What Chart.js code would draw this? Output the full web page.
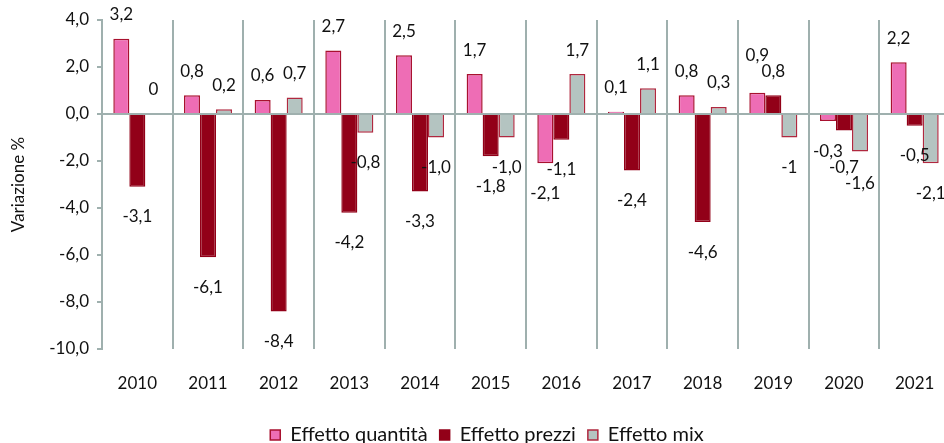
<!DOCTYPE html>
<html>
<head>
<meta charset="utf-8">
<script src="https://cdn.jsdelivr.net/npm/chart.js@4.4.1/dist/chart.umd.min.js"></script>
<style>
  html, body { margin: 0; padding: 0; background: #ffffff; overflow: hidden; width: 944px; height: 443px; }
  #wrap { width: 975px; height: 455px; }
</style>
</head>
<body>
<div id="wrap"><canvas id="c" width="975" height="455"></canvas></div>
<script>
const categories = ['2010','2011','2012','2013','2014','2015','2016','2017','2018','2019','2020','2021'];
const effettoQuantita = [3.2, 0.8, 0.6, 2.7, 2.5, 1.7, -2.1, 0.1, 0.8, 0.9, -0.3, 2.2];
const effettoPrezzi   = [-3.1, -6.1, -8.4, -4.2, -3.3, -1.8, -1.1, -2.4, -4.6, 0.8, -0.7, -0.5];
const effettoMix      = [0, 0.2, 0.7, -0.8, -1.0, -1.0, 1.7, 1.1, 0.3, -1, -1.6, -2.1];
const labelsQuantita  = ['3,2','0,8','0,6','2,7','2,5','1,7','-2,1','0,1','0,8','0,9','-0,3','2,2'];
const labelsPrezzi    = ['-3,1','-6,1','-8,4','-4,2','-3,3','-1,8','-1,1','-2,4','-4,6','0,8','-0,7','-0,5'];
const labelsMix       = ['0','0,2','0,7','-0,8','-1,0','-1,0','1,7','1,1','0,3','-1','-1,6','-2,1'];
const seriesNames     = ['Effetto quantità','Effetto prezzi','Effetto mix'];
const yMin = -10, yMax = 4, yStep = 2;
const axisTitle = 'Variazione %';

const GRID = '#9fb0ae';
const TEXT = '#111111';
const FONT = 'Lato, "Open Sans", sans-serif';
Chart.defaults.font.family = FONT;
Chart.defaults.font.size = 17;
Chart.defaults.color = TEXT;

const labelSets = [labelsQuantita, labelsPrezzi, labelsMix];

const dataLabelPlugin = {
  id: 'dataLabels',
  afterDatasetsDraw(chart) {
    const ctx = chart.ctx;
    ctx.save();
    ctx.font = '17px ' + FONT;
    ctx.fillStyle = TEXT;
    ctx.textAlign = 'center';
    ctx.textBaseline = 'middle';
    const H = 16, TOL = 3;
    const n = chart.data.labels.length;
    const nd = chart.data.datasets.length;
    for (let j = 0; j < n; j++) {
      const items = [];
      for (let i = 0; i < nd; i++) {
        const bar = chart.getDatasetMeta(i).data[j];
        const v = chart.data.datasets[i].data[j];
        const text = labelSets[i][j];
        const w = ctx.measureText(text).width;
        items.push({ text, x: bar.x, w, pos: v >= 0, y: v >= 0 ? bar.y - 24 : bar.y + 30 });
      }
      const overlapX = (a, b) => Math.min(a.x + a.w / 2, b.x + b.w / 2) - Math.max(a.x - a.w / 2, b.x - b.w / 2) > TOL;
      // negatives: left to right, push down
      const neg = items.filter(it => !it.pos);
      for (let k = 1; k < neg.length; k++) {
        for (let m = 0; m < k; m++) {
          if (overlapX(neg[k], neg[m]) && Math.abs(neg[k].y - neg[m].y) < H) neg[k].y = neg[m].y + H;
        }
      }
      // positives: right to left, push up
      const pos = items.filter(it => it.pos).reverse();
      for (let k = 1; k < pos.length; k++) {
        for (let m = 0; m < k; m++) {
          if (overlapX(pos[k], pos[m]) && Math.abs(pos[k].y - pos[m].y) < H) pos[k].y = pos[m].y - H;
        }
      }
      items.forEach(it => ctx.fillText(it.text, it.x, it.y));
    }
    ctx.restore();
  }
};

new Chart(document.getElementById('c'), {
  type: 'bar',
  data: {
    labels: categories,
    datasets: [
      { label: seriesNames[0], data: effettoQuantita, backgroundColor: '#ee6db5', borderColor: '#a8112f', borderWidth: 1.5 },
      { label: seriesNames[1], data: effettoPrezzi, backgroundColor: '#920018', borderColor: '#920018', borderWidth: 1.5 },
      { label: seriesNames[2], data: effettoMix, backgroundColor: '#b4c4c1', borderColor: '#b0283f', borderWidth: 1.5 }
    ]
  },
  options: {
    responsive: false,
    animation: false,
    layout: { padding: { top: 20, right: 25, left: 24, bottom: 0 } },
    datasets: { bar: { categoryPercentage: 0.68, barPercentage: 1.0 } },
    plugins: {
      legend: {
        position: 'bottom',
        labels: { boxWidth: 10, boxHeight: 10, padding: 12, font: { size: 20, family: FONT }, color: TEXT }
      },
      tooltip: { enabled: false }
    },
    scales: {
      x: {
        grid: { offset: true, drawTicks: false, color: GRID, lineWidth: 2 },
        border: { display: false },
        ticks: { padding: 24, font: { size: 17 }, color: TEXT, maxRotation: 0 },
        afterFit(scale) { scale.height = 64; }
      },
      y: {
        min: yMin, max: yMax,
        ticks: { stepSize: yStep, padding: 8, color: TEXT, font: { size: 17 },
          callback: (v) => v.toFixed(1).replace('.', ',') },
        grid: {
          color: (c) => (c.tick && c.tick.value === 0) ? GRID : 'rgba(0,0,0,0)',
          lineWidth: 2, tickLength: 5, tickColor: GRID, tickWidth: 2
        },
        border: { display: true, color: GRID, width: 2 },
        title: { display: true, text: axisTitle, color: TEXT, font: { size: 17 }, padding: { top: -16, bottom: 0 } },
        afterFit(scale) { scale.width = 78; }
      }
    }
  },
  plugins: [dataLabelPlugin]
});
</script>
</body>
</html>
